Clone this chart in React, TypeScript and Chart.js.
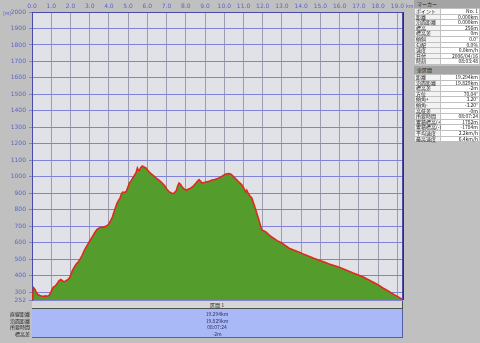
import React, { useEffect, useRef } from "react";
import { Chart, registerables } from "chart.js";

Chart.register(...registerables);

const distanceKm = [
  0.0, 0.04, 0.09, 0.15, 0.22, 0.3, 0.4, 0.5, 0.6, 0.7, 0.8, 0.9, 0.97, 1.05, 1.12, 1.2, 1.3, 1.4, 1.5, 1.58,
  1.66, 1.75, 1.85, 1.95, 2.02, 2.1, 2.2, 2.3, 2.4, 2.5, 2.6, 2.7, 2.8, 2.9, 3.0, 3.1, 3.2, 3.3, 3.4, 3.5,
  3.6, 3.7, 3.8, 3.9, 4.0, 4.1, 4.18, 4.26, 4.34, 4.42, 4.5, 4.58, 4.66, 4.72, 4.8, 4.9, 5.0, 5.06, 5.15, 5.25,
  5.35, 5.42, 5.48, 5.53, 5.58, 5.65, 5.74, 5.82, 5.94, 6.02, 6.1, 6.2, 6.3, 6.46, 6.6, 6.77, 6.9, 7.03, 7.12, 7.2,
  7.29, 7.4, 7.5, 7.58, 7.65, 7.72, 7.81, 7.92, 8.02, 8.12, 8.27, 8.4, 8.53, 8.62, 8.69, 8.77, 8.84, 8.95, 9.05, 9.2,
  9.36, 9.5, 9.62, 9.72, 9.85, 9.97, 10.09, 10.22, 10.35, 10.45, 10.5, 10.62, 10.76, 10.85, 10.92, 11.02, 11.12, 11.17, 11.25, 11.35,
  11.43, 11.52, 11.64, 11.72, 11.8, 11.88, 11.95, 12.05, 12.16, 12.3, 12.47, 12.6, 12.75, 12.99, 13.15, 13.35, 13.6, 13.87, 14.1, 14.4,
  14.65, 14.9, 15.2, 15.45, 15.7, 15.94, 16.2, 16.45, 16.7, 16.98, 17.25, 17.5, 17.75, 18.01, 18.25, 18.5, 18.79, 19.0, 19.2, 19.294,
];

const elevationM = [
  256, 290, 326, 318, 300, 286, 279, 276, 274, 277, 275, 281, 296, 318, 332, 336, 350, 368, 376, 370,
  362, 368, 375, 386, 405, 430, 452, 470, 482, 500, 522, 548, 570, 590, 610, 628, 648, 668, 682, 690,
  695, 693, 698, 702, 715, 735, 756, 785, 812, 838, 855, 872, 898, 907, 905, 910, 940, 962, 975, 995,
  1012, 1029, 1053, 1040, 1038, 1055, 1065, 1060, 1052, 1040, 1029, 1018, 1008, 992, 980, 962, 945, 922, 910, 905,
  898, 902, 915, 945, 962, 955, 938, 925, 918, 925, 932, 945, 962, 975, 982, 972, 962, 965, 968, 972,
  980, 983, 988, 992, 1000, 1010, 1017, 1020, 1016, 1005, 998, 985, 968, 958, 950, 930, 907, 918, 898, 882,
  871, 840, 798, 768, 737, 705, 677, 672, 665, 650, 634, 625, 612, 598, 585, 568, 556, 543, 532, 518,
  506, 495, 482, 470, 462, 452, 440, 428, 416, 404, 390, 375, 360, 343, 325, 308, 288, 274, 260, 254,
];

const xTickValues = [0, 1, 2, 3, 4, 5, 6, 7, 8, 9, 10, 11, 12, 13, 14, 15, 16, 17, 18, 19];
const yTickValues = [252, 300, 400, 500, 600, 700, 800, 900, 1000, 1100, 1200, 1300, 1400, 1500, 1600, 1700, 1800, 1900, 2000];

const markerLabels = ["ポイント", "距離", "沿面距離", "標高", "標高差", "傾斜", "勾配", "速度", "日付", "時刻"];
const markerValues = ["No. 1", "0.000km", "0.000km", "256m", "0m", "0.0°", "0.0%", "0.0km/h", "2006/04/16", "08:03:48"];

const totalLabels = ["距離", "沿面距離", "標高差", "方位", "傾角+", "傾角-", "高低差", "所要時間", "累積標高(+)", "累積標高(-)", "平均速度", "最高速度"];
const totalValues = ["19.294km", "19.829km", "-2m", "70.04°", "3.20°", "-3.20°", "-0m", "08:07:24", "1782m", "-1784m", "2.2km/h", "6.4km/h"];

const sectionTitle = "区間 1";
const sectionLabels = ["直線距離", "沿面距離", "所要時間", "標高差"];
const sectionValues = ["19.294km", "19.829km", "08:07:24", "-2m"];

const tickColor = "#5a66c6";

const bgPlugin = {
  id: "plotBg",
  beforeDraw(chart: any) {
    const { ctx, chartArea } = chart;
    ctx.save();
    ctx.fillStyle = "#e1e1e8";
    ctx.fillRect(chartArea.left, chartArea.top, chartArea.right - chartArea.left, chartArea.bottom - chartArea.top);
    ctx.restore();
  },
  afterDraw(chart: any) {
    const { ctx, chartArea } = chart;
    ctx.save();
    ctx.strokeStyle = "#4a4aa8";
    ctx.lineWidth = 1;
    ctx.beginPath();
    ctx.moveTo(chartArea.left + 0.5, chartArea.top + 0.5);
    ctx.lineTo(chartArea.right - 0.5, chartArea.top + 0.5);
    ctx.lineTo(chartArea.right - 0.5, chartArea.bottom);
    ctx.stroke();
    ctx.strokeStyle = "#303060";
    ctx.beginPath();
    ctx.moveTo(chartArea.right + 0.5, chartArea.top);
    ctx.lineTo(chartArea.right + 0.5, chartArea.bottom);
    ctx.stroke();
    ctx.restore();
  },
};

function ProfileChart() {
  const ref = useRef<HTMLCanvasElement | null>(null);
  useEffect(() => {
    if (!ref.current) return;
    const points = distanceKm.map((d, i) => ({ x: d, y: elevationM[i] }));
    const chart = new Chart(ref.current, {
      type: "line",
      data: {
        datasets: [
          {
            data: points,
            borderColor: "#e02a1c",
            borderWidth: 1.6,
            backgroundColor: "#549c2c",
            fill: "start",
            pointRadius: 0,
            tension: 0,
          },
        ],
      },
      options: {
        animation: false,
        responsive: false,
        maintainAspectRatio: false,
        layout: { autoPadding: false, padding: { left: 0, top: 0, right: 1, bottom: 6 } },
        plugins: { legend: { display: false }, tooltip: { enabled: false } },
        scales: {
          x: {
            type: "linear",
            position: "top",
            min: 0,
            max: 19.294,
            afterBuildTicks: (s: any) => {
              s.ticks = xTickValues.map((v) => ({ value: v }));
            },
            afterFit: (s: any) => {
              s.height = 12;
              s.paddingLeft = 0;
              s.paddingRight = 0;
              s.paddingTop = 0;
              s.paddingBottom = 0;
            },
            ticks: {
              autoSkip: false,
              maxRotation: 0,
              padding: 2,
              color: tickColor,
              font: { size: 6, family: "DejaVu Sans" },
              callback: (v: any) => Number(v).toFixed(1),
            },
            grid: { color: "#9d9db2", lineWidth: 1, drawTicks: false },
            border: { display: true, color: "#4a4aa8" },
          },
          y: {
            type: "linear",
            min: 252,
            max: 2000,
            afterBuildTicks: (s: any) => {
              s.ticks = yTickValues.map((v) => ({ value: v }));
            },
            afterFit: (s: any) => {
              s.width = 32;
              s.paddingLeft = 0;
              s.paddingRight = 0;
              s.paddingTop = 0;
              s.paddingBottom = 0;
            },
            ticks: {
              autoSkip: false,
              padding: 3,
              color: tickColor,
              font: { size: 6, family: "DejaVu Sans" },
              callback: (v: any) => String(v),
            },
            grid: { color: "#8282d6", lineWidth: 1, drawTicks: true, tickLength: 3 },
            border: { display: true, color: "#4a4aa8" },
          },
        },
      },
      plugins: [bgPlugin],
    });
    return () => chart.destroy();
  }, []);
  return (
    <canvas
      ref={ref}
      width={404}
      height={306}
      style={{ position: "absolute", left: 0, top: 0, width: 404, height: 306, display: "block" }}
    />
  );
}

const tiny: React.CSSProperties = { fontSize: 5, lineHeight: "5px", whiteSpace: "nowrap" };

function InfoTable({ title, labels, values, top, rowH }: { title: string; labels: string[]; values: string[]; top: number; rowH: number }) {
  return (
    <div style={{ position: "absolute", left: 414, top, width: 66 }}>
      <div style={{ ...tiny, height: 8, background: "#a4a4a4", color: "#202020", paddingLeft: 3, lineHeight: "8px" }}>{title}</div>
      {labels.map((l, i) => (
        <div key={i} style={{ position: "absolute", top: 9 + i * rowH, left: 0, width: 66, height: rowH }}>
          <div style={{ ...tiny, position: "absolute", left: 1, width: 24, height: rowH - 1, background: "#f2f2f2", color: "#202020", lineHeight: `${rowH - 1}px`, paddingLeft: 1 }}>{l}</div>
          <div style={{ ...tiny, position: "absolute", left: 27, width: 37, height: rowH - 1, background: "#ffffff", color: "#202020", textAlign: "right", lineHeight: `${rowH - 1}px`, paddingRight: 1 }}>{values[i]}</div>
        </div>
      ))}
    </div>
  );
}

export default function App() {
  useEffect(() => {
    document.body.style.margin = "0";
  }, []);
  return (
    <div style={{ position: "relative", width: 480, height: 343, background: "#c0c0c0", overflow: "hidden", fontFamily: "'Noto Sans CJK JP', sans-serif" }}>
      <ProfileChart />
      <div style={{ ...tiny, position: "absolute", left: 3, top: 10, color: tickColor }}>[m]</div>
      <div style={{ ...tiny, position: "absolute", left: 406, top: 3, color: tickColor }}>km</div>
      <InfoTable title="マーカー" labels={markerLabels} values={markerValues} top={0} rowH={5.6} />
      <InfoTable title="全区間" labels={totalLabels} values={totalValues} top={66} rowH={5.6} />
      <div style={{ ...tiny, position: "absolute", left: 32, top: 301, width: 370, height: 7, background: "#d6d6d6", borderBottom: "1px solid #505050", borderRight: "1px solid #505050", textAlign: "center", lineHeight: "7px", color: "#202020" }}>{sectionTitle}</div>
      <div style={{ position: "absolute", left: 32, top: 309, width: 370, height: 28, background: "#a9b8f6", borderRight: "1px solid #5060a0", borderBottom: "1px solid #5060a0" }}>
        {sectionValues.map((v, i) => (
          <div key={i} style={{ ...tiny, position: "absolute", top: 2 + i * 6.5, width: 370, textAlign: "center", color: "#303060" }}>{v}</div>
        ))}
      </div>
      {sectionLabels.map((l, i) => (
        <div key={i} style={{ ...tiny, position: "absolute", top: 311 + i * 6.5, right: 480 - 30, textAlign: "right", color: "#202020" }}>{l}</div>
      ))}
    </div>
  );
}
